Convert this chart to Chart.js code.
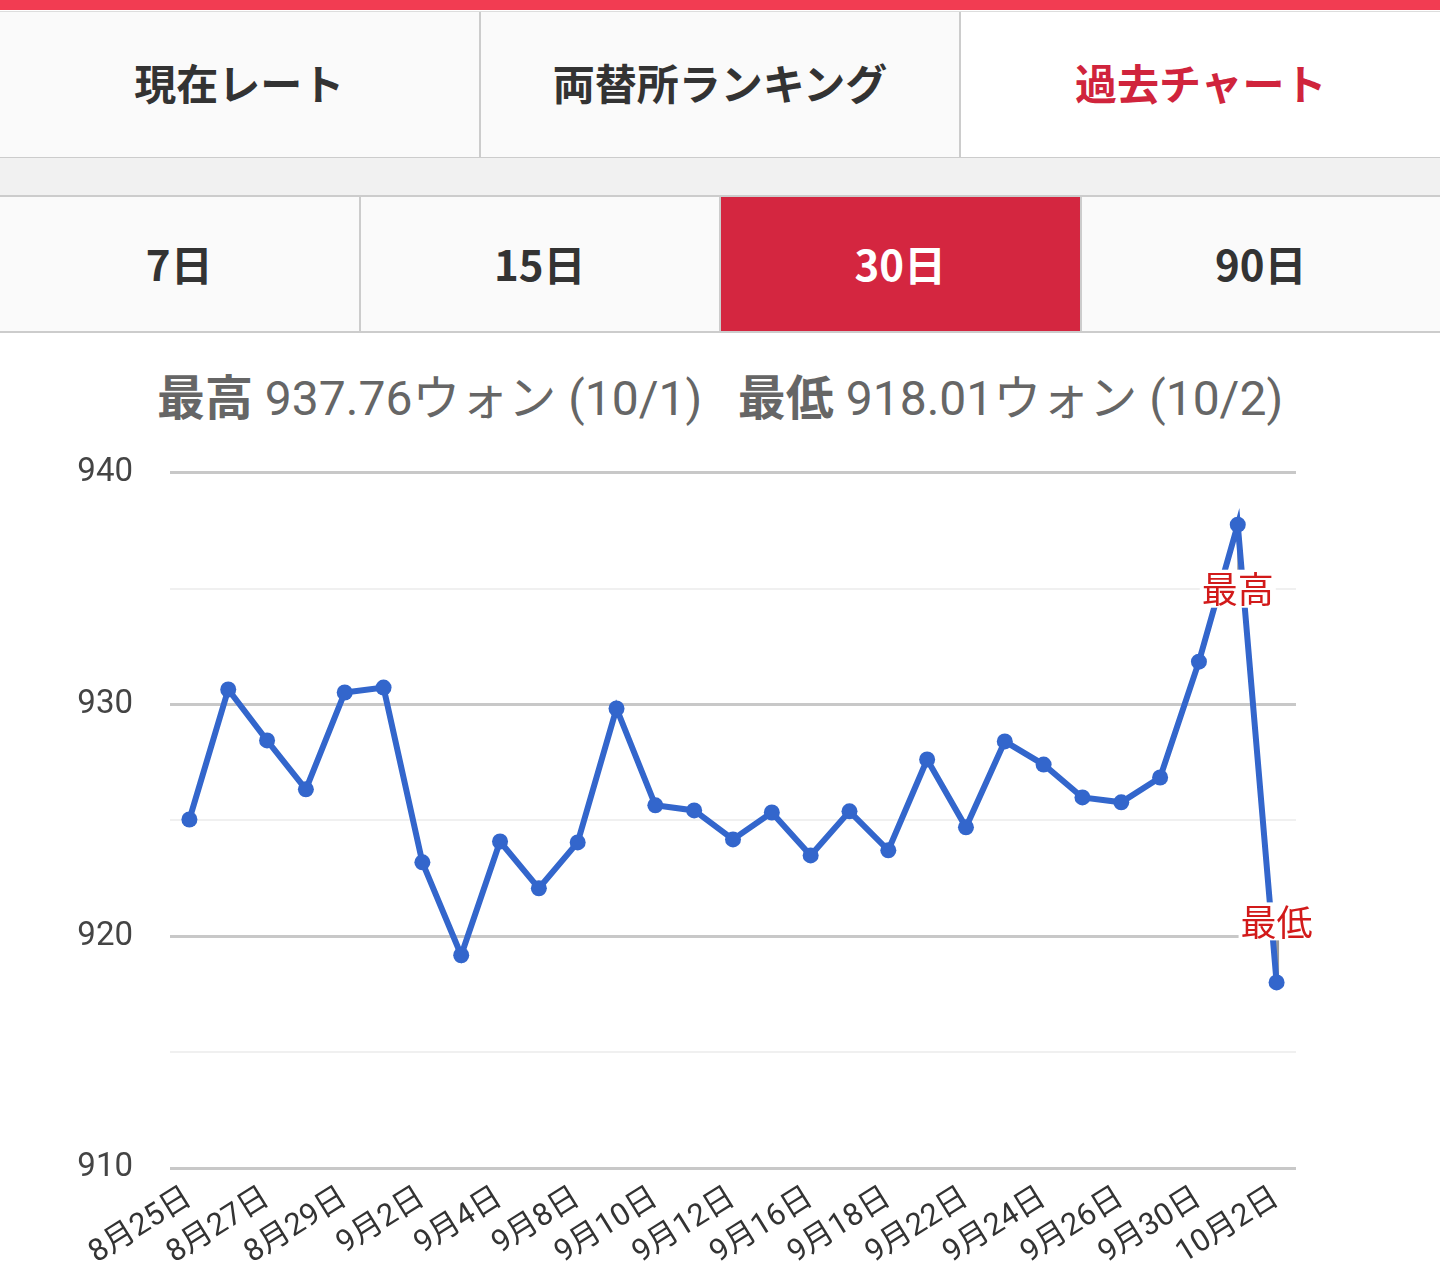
<!DOCTYPE html>
<html lang="ja">
<head>
<meta charset="utf-8">
<script src="https://cdn.jsdelivr.net/npm/chart.js@4.4.1/dist/chart.umd.min.js"></script>
<style>
  html, body { margin: 0; padding: 0; background: #fff; }
  body { width: 1440px; height: 1277px; position: relative; overflow: hidden;
         font-family: Roboto, "Noto Sans CJK JP", sans-serif; }
  .redbar { position: absolute; left: 0; top: 0; width: 1440px; height: 10px; background: #f23c52; }
  .row1 { position: absolute; left: 0; top: 11px; width: 1440px; height: 145px;
          border-top: 1px solid #ddd; border-bottom: 2px solid #ccc; display: flex; }
  .row1 div { flex: 1; display: flex; align-items: center; justify-content: center; padding-bottom: 6px;
              background: #fafafa; font: bold 42px "Noto Sans CJK JP", sans-serif; color: #333; }
  .row1 div + div { border-left: 2px solid #ccc; }
  .row1 .on { background: #fff; color: #d0243c; }
  .band { position: absolute; left: 0; top: 158px; width: 1440px; height: 37px; background: #f1f1f1; }
  .row2 { position: absolute; left: 0; top: 195px; width: 1440px; height: 134px;
          border-top: 2px solid #ccc; border-bottom: 2px solid #ccc; display: flex; }
  .row2 div { flex: 1; display: flex; align-items: center; justify-content: center; padding-bottom: 4px;
              background: #fafafa; font: bold 42px "Noto Sans CJK JP", sans-serif; color: #333; }
  .row2 div + div { border-left: 2px solid #ccc; }
  .row2 .on { background: #d42640; color: #fff; }
  .title { position: absolute; left: 0; top: 364px; width: 1440px; text-align: center;
           font-size: 48px; line-height: 60px; color: #666; white-space: pre; }
  .title b { font-family: "Noto Sans CJK JP", sans-serif; font-weight: bold; }
  .wrap { position: absolute; left: 0; top: 416px; width: 1440px; height: 861px; }
</style>
</head>
<body>
<div class="redbar"></div>
<div class="row1"><div>現在レート</div><div>両替所ランキング</div><div class="on">過去チャート</div></div>
<div class="band"></div>
<div class="row2"><div>7日</div><div>15日</div><div class="on">30日</div><div>90日</div></div>
<div class="title"><b>最高</b> 937.76ウォン (10/1)   <b>最低</b> 918.01ウォン (10/2)</div>
<div class="wrap"><canvas id="chart"></canvas></div>
<script>
// 営業日ごとのレート (ウォン)
const days = ['8月25日', '8月26日', '8月27日', '8月28日', '8月29日',
  '9月1日', '9月2日', '9月3日', '9月4日', '9月5日',
  '9月8日', '9月9日', '9月10日', '9月11日', '9月12日',
  '9月15日', '9月16日', '9月17日', '9月18日', '9月19日',
  '9月22日', '9月23日', '9月24日', '9月25日', '9月26日',
  '9月29日', '9月30日', '10月1日', '10月2日'];
const rates = [925.04, 930.65, 928.45, 926.34, 930.52,
  930.73, 923.19, 919.18, 924.09, 922.07,
  924.05, 929.83, 925.65, 925.43, 924.18,
  925.34, 923.49, 925.39, 923.71, 927.63,
  924.70, 928.41, 927.41, 925.99, 925.78,
  926.85, 931.85, 937.76, 918.01];
const yTicks = [910, 920, 930, 940];

const hiIdx = rates.indexOf(Math.max(...rates));
const loIdx = rates.indexOf(Math.min(...rates));

// 最高・最低のラベル
const markers = {
  id: 'markers',
  beforeDatasetsDraw(chart) {
    const { ctx } = chart;
    const pts = chart.getDatasetMeta(0).data;
    ctx.save();
    ctx.strokeStyle = '#999';
    ctx.lineWidth = 3;
    [[hiIdx, 64], [loIdx, -61]].forEach(([i, dy]) => {
      const p = pts[i];
      ctx.beginPath();
      ctx.moveTo(p.x + 1, p.y);
      ctx.lineTo(p.x + 1, p.y + dy);
      ctx.stroke();
    });
    ctx.restore();
  },
  afterDatasetsDraw(chart) {
    const { ctx } = chart;
    const pts = chart.getDatasetMeta(0).data;
    ctx.save();
    ctx.font = '36px "Noto Sans CJK JP", sans-serif';
    ctx.textAlign = 'center';
    ctx.textBaseline = 'middle';
    [[hiIdx, 64, '最高'], [loIdx, -61, '最低']].forEach(([i, dy, txt]) => {
      const p = pts[i];
      const w = ctx.measureText(txt).width;
      ctx.fillStyle = '#fff';
      ctx.fillRect(p.x - w / 2 - 2, p.y + dy - 19, w + 4, 38);
      ctx.fillStyle = '#d21a1a';
      ctx.fillText(txt, p.x, p.y + dy + 1);
    });
    ctx.restore();
  }
};

new Chart(document.getElementById('chart'), {
  type: 'line',
  plugins: [markers],
  data: {
    labels: days,
    datasets: [{
      data: rates,
      borderColor: '#3366cc',
      backgroundColor: '#3366cc',
      borderWidth: 6,
      pointRadius: 8,
      pointBorderWidth: 0,
      tension: 0,
    }],
  },
  options: {
    responsive: true,
    maintainAspectRatio: false,
    animation: false,
    layout: { padding: { top: 8, right: 144, left: 0, bottom: 0 } },
    plugins: { legend: { display: false }, tooltip: { enabled: false } },
    scales: {
      x: {
        offset: true,
        grid: { display: false },
        border: { display: false },
        afterFit: (s) => { s.height = 109; },
        ticks: {
          autoSkip: false,
          maxRotation: 32,
          minRotation: 32,
          padding: 4,
          color: '#333',
          font: { size: 31, family: 'Roboto, "Noto Sans CJK JP", sans-serif' },
          callback: (v, i) => (i % 2 === 0 ? days[i] : null),
        },
      },
      y: {
        min: 910,
        max: 940,
        afterFit: (s) => { s.width = 170; },
        border: { display: false },
        grid: {
          drawTicks: false,
          color: (c) => (yTicks.includes(c.tick.value) ? '#c8c8c8' : '#f0f0f0'),
          lineWidth: (c) => (yTicks.includes(c.tick.value) ? 3 : 2),
        },
        ticks: {
          stepSize: 5,
          padding: 37,
          color: '#444',
          font: { size: 33, family: 'Roboto, sans-serif' },
          callback: (v) => (yTicks.includes(v) ? String(v) : ''),
        },
      },
    },
  },
});
</script>
</body>
</html>
